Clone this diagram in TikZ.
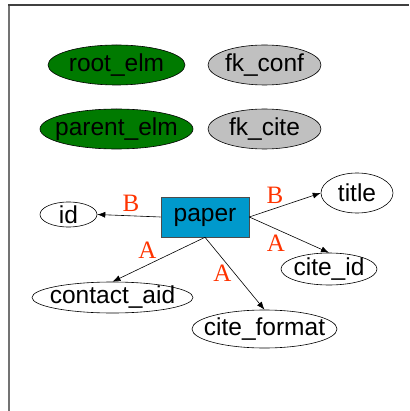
\documentclass[tikz,border=0pt]{standalone}
\usepackage{fontspec}
\setmainfont{Liberation Sans}
\newfontfamily\labelfont{Liberation Serif}
\usetikzlibrary{shapes.geometric,arrows.meta}
\definecolor{elmgreen}{HTML}{007A00}
\definecolor{fkgray}{HTML}{C0C0C0}
\definecolor{paperblue}{HTML}{0099CC}
\definecolor{edgered}{HTML}{FF3300}
\tikzset{
  bigtext/.style={font=\fontsize{24.5}{28}\selectfont},
  % fixed-size ellipse; the caption sits on it as a centred label
  attr/.style 2 args={ellipse, draw=black, line width=0.6pt, inner sep=0pt,
    minimum width=#1, minimum height=#2},
  cap/.style={label={[bigtext, inner sep=0pt]center:#1}},
  elm/.style={fill=elmgreen},
  fk/.style={fill=fkgray},
  entity/.style={rectangle, draw=black!70, line width=0.6pt, fill=paperblue,
    inner sep=0pt, minimum width=88pt, minimum height=40pt, bigtext},
  link/.style={draw=black, line width=0.6pt, -{Latex[length=8pt,width=6pt]}},
  tag/.style={text=edgered, font=\labelfont\fontsize{25}{28}\selectfont, inner sep=0pt}
}
\begin{document}
\begin{tikzpicture}[x=1pt,y=-1pt]
\useasboundingbox (0,0) rectangle (409,411);
% page frame
\draw[line width=2.5pt, color=black!55] (9,5) -- (9,411);
\draw[line width=1.6pt, color=black!75] (8,5) -- (409,5);
% legend
\node[attr={137pt}{40pt}, elm, cap=root\_elm] (root) at (116.5,65) {};
\node[attr={113pt}{40pt}, fk, cap=fk\_conf] (fkconf) at (264.5,65) {};
\node[attr={153pt}{40pt}, elm, cap=parent\_elm] (parent) at (116.5,129) {};
\node[attr={113pt}{40pt}, fk, cap=fk\_cite] (fkcite) at (264.5,129) {};
% entity and attributes
\node[entity] (paper) at (205,217) {paper};
\node[attr={57pt}{25pt}, cap=id] (id) at (68.5,214.5) {};
\node[attr={72pt}{40pt}, cap=title] (title) at (357,193) {};
\node[attr={96pt}{32pt}, cap=cite\_id] (citeid) at (329,269) {};
\node[attr={161pt}{31pt}, cap=contact\_aid] (contact) at (112.5,297.5) {};
\node[attr={145pt}{38pt}, cap=cite\_format] (citefmt) at (264.5,329) {};
% connectors
\draw[link] (paper.west) -- (id.east);
\draw[link] (paper.east) -- (title.west);
\draw[link] (paper.east) -- (citeid.north);
\draw[link] (paper.south) -- (contact.north);
\draw[link] (paper.south) -- (citefmt.north);
% connector labels
\node[tag] (lb1) at (131,203.5) {B};
\node[tag] (lb2) at (275,195) {B};
\node[tag] (la1) at (276,243.5) {A};
\node[tag] (la2) at (147.5,250) {A};
\node[tag] (la3) at (222.5,273.5) {A};
\end{tikzpicture}
\end{document}
